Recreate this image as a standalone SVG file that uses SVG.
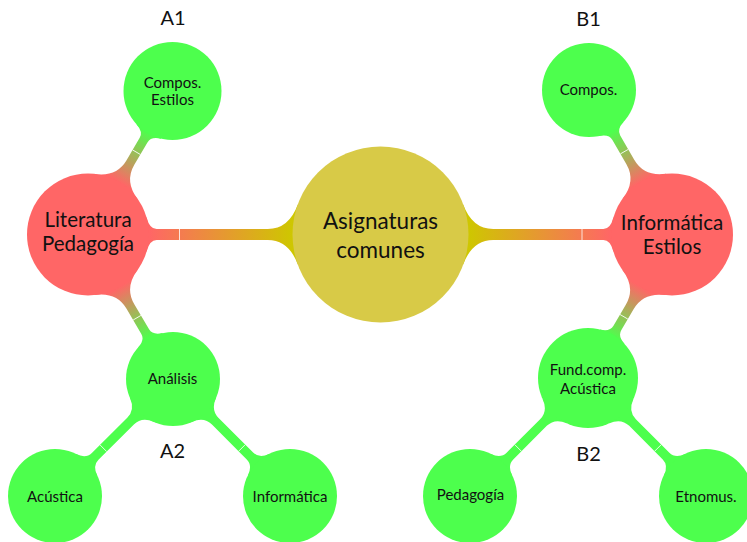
<svg xmlns="http://www.w3.org/2000/svg" width="747" height="542" viewBox="0 0 747 542">
<style>
text{font-family:Lato,"Noto Sans","DejaVu Sans",sans-serif;fill:#111;text-anchor:middle}
.c0{fill:#d8ca47}
.c1{fill:#ff6666}
.c2{fill:#4dff4d}
.t0{font-size:22.5px}
.t1{font-size:20.5px}
.t2{font-size:15px}
.lab{font-size:20px}
.seam{stroke:#fff;stroke-width:0.8;fill:none}
</style>
<defs>
<linearGradient id="gYR" x1="0" y1="0" x2="1" y2="0">
<stop offset="0.30" stop-color="#cec700"/>
<stop offset="0.79" stop-color="#ff6666"/>
</linearGradient>
<linearGradient id="gRG" x1="0" y1="0" x2="1" y2="0">
<stop offset="0.365" stop-color="#ff6666"/>
<stop offset="0.715" stop-color="#4dff4d"/>
</linearGradient>
</defs>
<g id="connectors">
<g transform="translate(380.5,234.5) rotate(180)">
<path fill="url(#gYR)" d="M0,-30 L82.7,-30 Q91.7,-5.5 112.7,-5.5 L223.9,-5.5 Q230.9,-5.5 233.9,-17 L292.5,-17 L292.5,17 L233.9,17 Q230.9,5.5 223.9,5.5 L112.7,5.5 Q91.7,5.5 82.7,30 L0,30 Z"/>
<path class="seam" d="M201,-5.5 L201,5.5"/>
</g>
<g transform="translate(380.5,234.5)">
<path fill="url(#gYR)" d="M0,-30 L82.7,-30 Q91.7,-5.5 112.7,-5.5 L222.9,-5.5 Q229.9,-5.5 232.9,-17 L291.5,-17 L291.5,17 L232.9,17 Q229.9,5.5 222.9,5.5 L112.7,5.5 Q91.7,5.5 82.7,30 L0,30 Z"/>
<path class="seam" d="M201.5,-5.5 L201.5,5.5"/>
</g>
<g transform="translate(88,234.5) rotate(-59.5)">
<path fill="url(#gRG)" d="M0,-25 L55.6,-25 Q64,-4.5 83.6,-4.5 L109.5,-4.5 Q116.5,-4.5 119.5,-14 L166.5,-14 L166.5,14 L119.5,14 Q116.5,4.5 109.5,4.5 L83.6,4.5 Q64,4.5 55.6,25 L0,25 Z"/>
<path class="seam" d="M95.5,-4.5 L95.5,4.5"/>
</g>
<g transform="translate(88,234.5) rotate(59.5)">
<path fill="url(#gRG)" d="M0,-25 L55.6,-25 Q64,-4.5 83.6,-4.5 L112.7,-4.5 Q119.7,-4.5 122.7,-14 L167.6,-14 L167.6,14 L122.7,14 Q119.7,4.5 112.7,4.5 L83.6,4.5 Q64,4.5 55.6,25 L0,25 Z"/>
<path class="seam" d="M96.6,-4.5 L96.6,4.5"/>
</g>
<g transform="translate(672,234.5) rotate(-119.9)">
<path fill="url(#gRG)" d="M0,-25 L55.6,-25 Q64,-4.5 83.6,-4.5 L111.7,-4.5 Q118.7,-4.5 121.7,-14 L166.6,-14 L166.6,14 L121.7,14 Q118.7,4.5 111.7,4.5 L83.6,4.5 Q64,4.5 55.6,25 L0,25 Z"/>
<path class="seam" d="M95.6,-4.5 L95.6,4.5"/>
</g>
<g transform="translate(672,234.5) rotate(120.3)">
<path fill="url(#gRG)" d="M0,-25 L55.6,-25 Q64,-4.5 83.6,-4.5 L108.3,-4.5 Q115.3,-4.5 118.3,-14 L166.3,-14 L166.3,14 L118.3,14 Q115.3,4.5 108.3,4.5 L83.6,4.5 Q64,4.5 55.6,25 L0,25 Z"/>
<path class="seam" d="M95.3,-4.5 L95.3,4.5"/>
</g>
<g transform="translate(173,379) rotate(135.2)">
<path class="c2" d="M0,-17 L43.8,-17 Q48.6,-4.7 59.8,-4.7 L109.7,-4.7 Q118.1,-4.7 121.7,-15 L166.2,-15 L166.2,15 L121.7,15 Q118.1,4.7 109.7,4.7 L59.8,4.7 Q48.6,4.7 43.8,17 L0,17 Z"/>
<path class="seam" d="M98.2,-4.7 L98.2,4.7"/>
</g>
<g transform="translate(173,379) rotate(45)">
<path class="c2" d="M0,-17 L43.8,-17 Q48.6,-4.7 59.8,-4.7 L109,-4.7 Q117.4,-4.7 121,-15 L165.5,-15 L165.5,15 L121,15 Q117.4,4.7 109,4.7 L59.8,4.7 Q48.6,4.7 43.8,17 L0,17 Z"/>
<path class="seam" d="M97.5,-4.7 L97.5,4.7"/>
</g>
<g transform="translate(588,378) rotate(135)">
<path class="c2" d="M0,-17 L47,-17 Q51.8,-4.7 63,-4.7 L110.4,-4.7 Q118.8,-4.7 122.4,-15 L166.9,-15 L166.9,15 L122.4,15 Q118.8,4.7 110.4,4.7 L63,4.7 Q51.8,4.7 47,17 L0,17 Z"/>
<path class="seam" d="M98.9,-4.7 L98.9,4.7"/>
</g>
<g transform="translate(588,378) rotate(45)">
<path class="c2" d="M0,-17 L47,-17 Q51.8,-4.7 63,-4.7 L110.4,-4.7 Q118.8,-4.7 122.4,-15 L166.9,-15 L166.9,15 L122.4,15 Q118.8,4.7 110.4,4.7 L63,4.7 Q51.8,4.7 47,17 L0,17 Z"/>
<path class="seam" d="M98.9,-4.7 L98.9,4.7"/>
</g>
</g>
<g id="center">
<circle class="c0" cx="380.5" cy="234.5" r="88"/>
<text class="t0" x="380.5" y="228.5">Asignaturas</text>
<text class="t0" x="380.5" y="257.5">comunes</text>
</g>
<g id="literatura">
<circle class="c1" cx="88" cy="234.5" r="61"/>
<text class="t1" x="88" y="227">Literatura</text>
<text class="t1" x="88" y="251">Pedagogía</text>
</g>
<g id="informatica-estilos">
<circle class="c1" cx="672" cy="234.5" r="61"/>
<text class="t1" x="672" y="230">Informática</text>
<text class="t1" x="672" y="254">Estilos</text>
</g>
<g id="a1-compos-estilos">
<circle class="c2" cx="172.5" cy="91" r="49"/>
<text class="t2" x="172.5" y="87.5">Compos.</text>
<text class="t2" x="172.5" y="104.5">Estilos</text>
</g>
<g id="b1-compos">
<circle class="c2" cx="589" cy="90" r="47"/>
<text class="t2" x="588.5" y="95">Compos.</text>
</g>
<g id="a2-analisis">
<circle class="c2" cx="173" cy="379" r="47"/>
<text class="t2" x="172.5" y="383.5">Análisis</text>
</g>
<g id="b2-fundcomp">
<circle class="c2" cx="588" cy="378" r="50"/>
<text class="t2" x="588" y="375">Fund.comp.</text>
<text class="t2" x="588" y="393.5">Acústica</text>
</g>
<g id="acustica">
<circle class="c2" cx="55" cy="496" r="47"/>
<text class="t2" x="55" y="501.5">Acústica</text>
</g>
<g id="informatica">
<circle class="c2" cx="290" cy="496" r="47"/>
<text class="t2" x="290" y="501.5">Informática</text>
</g>
<g id="pedagogia">
<circle class="c2" cx="470" cy="496" r="47"/>
<text class="t2" x="470.5" y="499.5">Pedagogía</text>
</g>
<g id="etnomus">
<circle class="c2" cx="706" cy="496" r="47"/>
<text class="t2" x="706" y="501.5">Etnomus.</text>
</g>
<g id="labels">
<text class="lab" x="173" y="25">A1</text>
<text class="lab" x="588.5" y="26">B1</text>
<text class="lab" x="172.5" y="457.5">A2</text>
<text class="lab" x="588.5" y="461">B2</text>
</g>
</svg>
